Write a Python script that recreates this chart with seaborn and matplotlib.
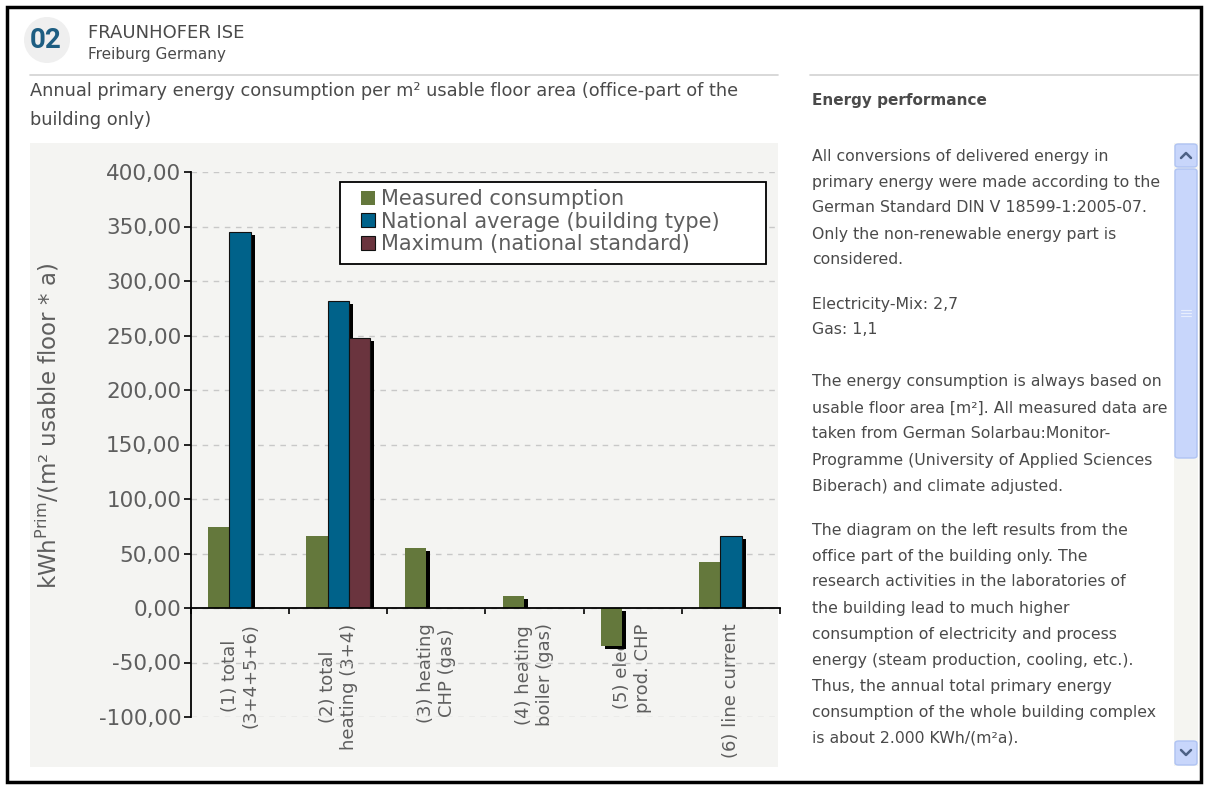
import matplotlib.pyplot as plt
import matplotlib.patheffects as pe
from matplotlib.patches import Rectangle, Ellipse, Patch, FancyBboxPatch
from matplotlib.lines import Line2D
import seaborn as sns
import pandas as pd

# chart data
categories = ["(1) total\n(3+4+5+6)", "(2) total\nheating (3+4)", "(3) heating\nCHP (gas)",
              "(4) heating\nboiler (gas)", "(5) elect.\nprod. CHP", "(6) line current"]
series = ["Measured consumption", "National average (building type)", "Maximum (national standard)"]
measured = [74, 66, 55, 11, -35, 42]
national_avg = [345, 282, None, None, None, 66]
maximum = [None, 248, None, None, None, None]
y_ticks = [-100, -50, 0, 50, 100, 150, 200, 250, 300, 350, 400]
colors = ["#64783C", "#00628A", "#6A343E"]

ylabel = "kWh$^{\\mathregular{Prim}}$/(m² usable floor * a)"
subtitle = ["Annual primary energy consumption per m² usable floor area (office-part of the",
            "building only)"]
side_title = "Energy performance"
side_paragraphs = [
    ["All conversions of delivered energy in",
     "primary energy were made according to the",
     "German Standard DIN V 18599-1:2005-07.",
     "Only the non-renewable energy part is",
     "considered."],
    ["Electricity-Mix: 2,7",
     "Gas: 1,1"],
    ["The energy consumption is always based on",
     "usable floor area [m²]. All measured data are",
     "taken from German Solarbau:Monitor-",
     "Programme (University of Applied Sciences",
     "Biberach) and climate adjusted."],
    ["The diagram on the left results from the",
     "office part of the building only. The",
     "research activities in the laboratories of",
     "the building lead to much higher",
     "consumption of electricity and process",
     "energy (steam production, cooling, etc.).",
     "Thus, the annual total primary energy",
     "consumption of the whole building complex",
     "is about 2.000 KWh/(m²a)."],
]

rows = []
for s, vals in zip(series, [measured, national_avg, maximum]):
    for c, v in zip(categories, vals):
        if v is not None:
            rows.append({"category": c, "series": s, "value": v})
df = pd.DataFrame(rows)

sns.set_style("white")
plt.rcParams['font.family'] = ['DejaVu Sans']

W, H = 1205, 786
fig = plt.figure(figsize=(W / 100, H / 100), dpi=100)


def fx(x):
    return x / W


def fy(y):
    return 1 - y / H


txt = "#4a4a4a"
grey = "#5e5e5e"

# grey chart panel
fig.add_artist(Rectangle((fx(30), fy(767)), fx(778) - fx(30), fy(143) - fy(767),
                         transform=fig.transFigure, fc="#F4F4F2", ec="none", zorder=-1))

ax = fig.add_axes([fx(191), fy(717), fx(780) - fx(191), fy(172) - fy(717)])
ax.set_facecolor("none")
ax.set_axisbelow(True)

sns.barplot(data=df, x="category", y="value", hue="series", order=categories,
            hue_order=series, palette=colors, width=0.65, errorbar=None,
            saturation=1, legend=False, ax=ax)

# drop shadow like the original chart; positive bars are clipped at the zero line
upper = Rectangle((-0.5, 0), 6, 400, transform=ax.transData)
for i, cont in enumerate(ax.containers):
    for bar in cont:
        bar.set_edgecolor("none" if i == 0 else "#111111")
        bar.set_linewidth(0.8)
        bar.set_path_effects([pe.SimplePatchShadow(offset=(2.9, -2.2), shadow_rgbFace="black", alpha=1.0),
                              pe.Normal()])
        if bar.get_height() > 0:
            bar.set_clip_path(upper)

ax.set_xlim(-0.5, 5.5)
ax.set_ylim(-100, 400)
ax.set_yticks(y_ticks)
ax.set_yticklabels([f"{v:.2f}".replace(".", ",") for v in y_ticks])
ax.set_xlabel("")
ax.set_ylabel("")
ax.yaxis.grid(True, color="#C8C8C8", linestyle=(0, (4, 4)), linewidth=1)
ax.xaxis.grid(False)

for side in ["top", "right"]:
    ax.spines[side].set_visible(False)
ax.spines["left"].set_color("black")
ax.spines["left"].set_linewidth(1.3)
ax.spines["bottom"].set_position(("data", 0))
ax.spines["bottom"].set_color("black")
ax.spines["bottom"].set_linewidth(1.3)

ax.tick_params(axis="y", direction="out", length=5, width=1.2, color="black",
               pad=2, labelsize=15.5, labelcolor=grey, left=True)
ax.tick_params(axis="x", which="major", length=0, pad=11, labelsize=13, labelcolor=grey,
               labelrotation=90, bottom=True)
ax.set_xticks([x - 0.5 for x in range(7)], minor=True)
ax.tick_params(axis="x", which="minor", direction="out", length=4, width=1.2, color="black", bottom=True)
for lab in ax.get_xticklabels():
    lab.set_va("top")
    lab.set_ha("center")
    lab.set_multialignment("center")

# legend: own frame box, entries placed inside it
ax.add_patch(Rectangle((fx(340), fy(264)), fx(766) - fx(340), fy(182) - fy(264),
                       transform=fig.transFigure, fc="white", ec="black", lw=1.3,
                       zorder=4, clip_on=False))
handles = [Patch(fc=colors[0], ec="none"),
           Patch(fc=colors[1], ec="#111111", lw=0.8),
           Patch(fc=colors[2], ec="#111111", lw=0.8)]
leg = ax.legend(handles, series, loc="upper left", bbox_to_anchor=(fx(357), fy(185)),
                bbox_transform=fig.transFigure, borderaxespad=0, frameon=False,
                fontsize=15, labelspacing=0.12, handlelength=0.65, handleheight=0.65,
                handletextpad=0.3, borderpad=0.2, labelcolor=grey)
leg.set_zorder(5)

fig.text(fx(48), fy(426), ylabel, rotation=90, ha="center", va="center", fontsize=16.5, color=grey)

# header
fig.add_artist(Ellipse((fx(47), fy(40)), 46 / W, 46 / H, transform=fig.transFigure,
                       fc="#EFEFEF", ec="none", zorder=-1))
fig.text(fx(30), fy(40), "02", fontsize=20, fontweight="bold", color="#1E5E82",
         ha="left", va="center", family="Roboto")
fig.text(fx(88), fy(33), "FRAUNHOFER ISE", fontsize=13, color=txt, ha="left", va="center")
fig.text(fx(88), fy(54), "Freiburg Germany", fontsize=11, color=txt, ha="left", va="center")
fig.add_artist(Line2D([fx(30), fx(778)], [fy(75), fy(75)], transform=fig.transFigure, color="#D2D2D2", lw=1.2))
fig.add_artist(Line2D([fx(810), fx(1198)], [fy(75), fy(75)], transform=fig.transFigure, color="#D2D2D2", lw=1.2))

for i, line in enumerate(subtitle):
    fig.text(fx(30), fy(91 + 29 * i), line, fontsize=12.8, color=txt, ha="left", va="center")

# right text panel
fig.text(fx(812), fy(101), side_title, fontsize=11, fontweight="bold", color=txt, ha="left", va="center")
starts = [156, 304, 382, 530]
for y0, para in zip(starts, side_paragraphs):
    for j, line in enumerate(para):
        fig.text(fx(812), fy(y0 + 26 * j), line, fontsize=11.3, color=txt, ha="left", va="center")

# scrollbar
fig.add_artist(Rectangle((fx(1174), fy(766)), 24 / W, 623 / H, transform=fig.transFigure,
                         fc="#F5F5F1", ec="none", zorder=-1))
for top, bot in [(144, 167), (169, 458), (741, 765)]:
    fig.add_artist(FancyBboxPatch((fx(1175), fy(bot)), 22 / W, (bot - top) / H,
                                  boxstyle="round,pad=0,rounding_size=0.003",
                                  transform=fig.transFigure, fc="#C8D6FB", ec="#AFC3F3", lw=1))
fig.add_artist(Line2D([fx(1181), fx(1186), fx(1191)], [fy(158), fy(153), fy(158)],
                      transform=fig.transFigure, color="#4D6185", lw=1.8))
fig.add_artist(Line2D([fx(1181), fx(1186), fx(1191)], [fy(750), fy(755), fy(750)],
                      transform=fig.transFigure, color="#4D6185", lw=1.8))
for yy in [310, 313, 316]:
    fig.add_artist(Line2D([fx(1181), fx(1191)], [fy(yy), fy(yy)],
                          transform=fig.transFigure, color="#E8EEFD", lw=0.8))

# outer frame
fig.add_artist(Rectangle((fx(7), fy(782)), 1194 / W, 775 / H, transform=fig.transFigure,
                         fc="none", ec="black", lw=2.5))

fig.savefig("out.png", dpi=100)
